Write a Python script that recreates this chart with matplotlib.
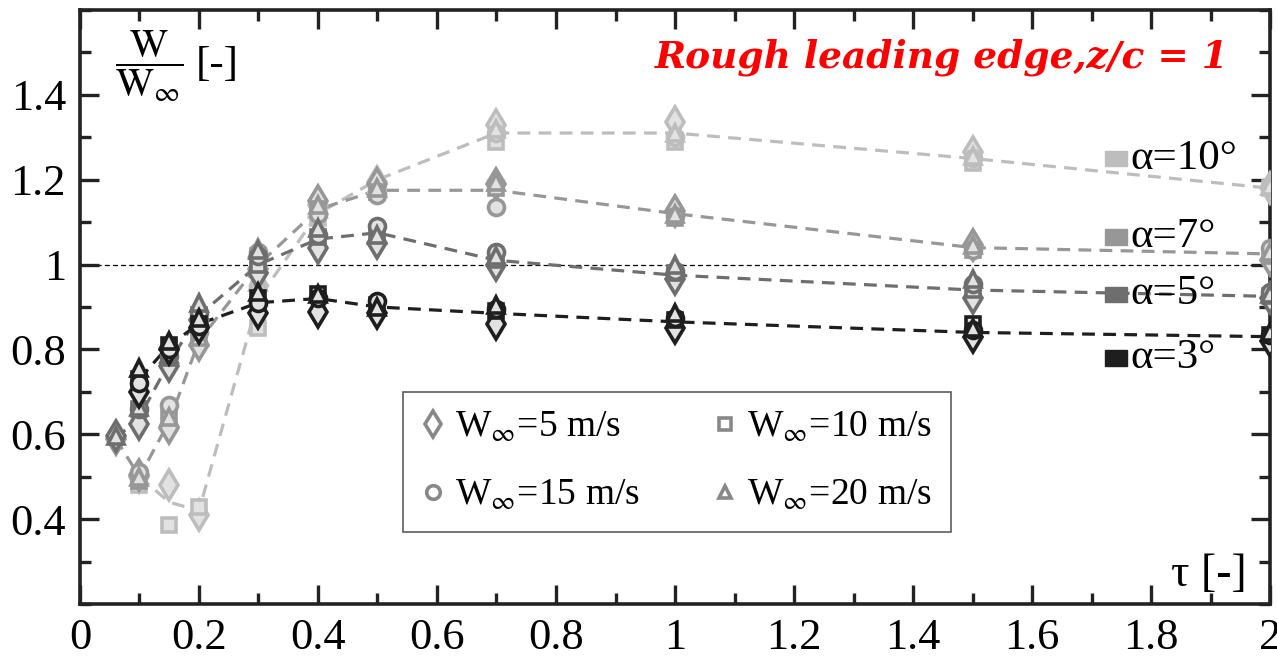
import numpy as np
import matplotlib
matplotlib.use('Agg')
import matplotlib.pyplot as plt
from matplotlib.lines import Line2D
from matplotlib.ticker import MultipleLocator, FuncFormatter

plt.rcParams['font.family'] = ['Liberation Serif', 'DejaVu Serif']
plt.rcParams['mathtext.fontset'] = 'stix'

nan = np.nan
tau = [0.06, 0.1, 0.15, 0.2, 0.3, 0.4, 0.5, 0.7, 1.0, 1.5, 2.0]

# alpha = 10 deg
a10_fit = [nan, 0.50, 0.44, 0.42, 0.92, 1.12, 1.20, 1.31, 1.31, 1.25, 1.18]
a10_w5 = [nan, 0.50, 0.48, 0.41, 0.98, 1.14, 1.195, 1.33, 1.335, 1.265, 1.18]
a10_w10 = [nan, 0.48, 0.386, 0.428, 0.85, 1.11, 1.17, 1.29, 1.29, 1.24, 1.18]
a10_w15 = [nan, nan, nan, nan, 0.95, 1.12, 1.18, 1.31, 1.30, 1.25, 1.18]
a10_w20 = [nan, nan, nan, nan, 0.96, 1.13, 1.19, 1.32, 1.31, 1.255, 1.185]

# alpha = 7 deg
a7_fit = [0.59, 0.50, 0.63, 0.82, 1.00, 1.13, 1.175, 1.175, 1.12, 1.04, 1.025]
a7_w5 = [0.59, 0.505, 0.614, 0.81, 0.99, 1.15, 1.19, 1.19, 1.127, 1.045, 1.01]
a7_w10 = [nan, 0.49, 0.645, 0.83, 1.02, 1.13, 1.17, 1.18, 1.11, 1.035, 1.02]
a7_w15 = [nan, 0.51, 0.668, 0.84, 1.03, 1.12, 1.165, 1.135, 1.115, 1.035, 1.04]
a7_w20 = [nan, 0.50, 0.64, 0.83, 1.04, 1.14, 1.18, 1.195, 1.12, 1.045, 1.03]

# alpha = 5 deg
a5_fit = [0.59, 0.64, 0.77, 0.88, 1.00, 1.06, 1.075, 1.01, 0.975, 0.94, 0.925]
a5_w5 = [0.595, 0.625, 0.76, 0.87, 0.98, 1.04, 1.05, 1.00, 0.967, 0.92, 0.92]
a5_w10 = [nan, 0.66, 0.78, 0.88, 1.00, 1.065, 1.075, 1.01, 0.98, 0.94, 0.925]
a5_w15 = [nan, 0.66, 0.785, 0.885, 1.02, 1.07, 1.09, 1.03, 0.985, 0.955, 0.935]
a5_w20 = [0.595, 0.665, 0.79, 0.91, 1.035, 1.085, 1.07, 1.02, 1.00, 0.965, 0.93]

# alpha = 3 deg
a3_fit = [nan, 0.73, 0.81, 0.86, 0.91, 0.92, 0.90, 0.885, 0.865, 0.84, 0.83]
a3_w5 = [nan, 0.70, 0.80, 0.85, 0.885, 0.887, 0.885, 0.86, 0.85, 0.83, 0.82]
a3_w10 = [nan, 0.73, 0.81, 0.86, 0.92, 0.93, 0.905, 0.89, 0.87, 0.86, 0.835]
a3_w15 = [nan, 0.72, 0.80, 0.855, 0.91, 0.92, 0.915, 0.895, 0.875, 0.845, 0.835]
a3_w20 = [nan, 0.755, 0.82, 0.875, 0.935, 0.93, 0.90, 0.905, 0.885, 0.85, 0.84]

alpha_labels = ['α=10°', 'α=7°', 'α=5°', 'α=3°']
alpha_label_y = [1.25, 1.065, 0.93, 0.78]
speed_labels = ['W$_{\\infty}$=5 m/s', 'W$_{\\infty}$=10 m/s',
                'W$_{\\infty}$=15 m/s', 'W$_{\\infty}$=20 m/s']

colors = ['#bdbdbd', '#979797', '#6e6e6e', '#1e1e1e']
markers = ['d', 's', 'o', '^']
msizes = [15, 10, 11.5, 11]

fits = [a10_fit, a7_fit, a5_fit, a3_fit]
groups = [[a10_w5, a10_w10, a10_w15, a10_w20],
          [a7_w5, a7_w10, a7_w15, a7_w20],
          [a5_w5, a5_w10, a5_w15, a5_w20],
          [a3_w5, a3_w10, a3_w15, a3_w20]]

fig = plt.figure(figsize=(12.77, 6.56), dpi=100)
ax = fig.add_axes([0.0626, 0.0793, 0.932, 0.9055])

ax.axhline(1.0, color='black', lw=0.9, ls=(0, (4, 2.5)), zorder=1)

for c, fit, grp in zip(colors, fits, groups):
    t = np.array(tau)
    f = np.array(fit)
    ok = ~np.isnan(f)
    ax.plot(t[ok], f[ok], color=c, lw=2.3, ls=(0, (4, 2.6)), zorder=2)
    for m, ms, vals in zip(markers, msizes, grp):
        ax.plot(tau, vals, ls='none', marker=m, ms=ms, mfc='#e2e2e2',
                mec=c, mew=2.6, zorder=3)

# alpha labels on the right
for lab, yy, c in zip(alpha_labels, alpha_label_y, colors):
    ax.add_patch(plt.Rectangle((1.723, yy - 0.018), 0.037, 0.036,
                               color=c, zorder=4))
    ax.text(1.766, yy, lab, fontsize=31, va='center', ha='left', zorder=4)

ax.set_xlim(0, 2)
ax.set_ylim(0.2, 1.6)
ax.set_xticks(np.arange(0, 2.01, 0.2))
ax.set_yticks([0.4, 0.6, 0.8, 1.0, 1.2, 1.4])
ax.xaxis.set_minor_locator(MultipleLocator(0.1))
ax.yaxis.set_minor_locator(MultipleLocator(0.1))
fmt = FuncFormatter(lambda v, p: ('%g' % round(v, 2)))
ax.xaxis.set_major_formatter(fmt)
ax.yaxis.set_major_formatter(fmt)
ax.tick_params(which='both', direction='in', top=True, right=True,
               width=2.4, labelsize=32, color='#222')
ax.tick_params(which='major', length=14, pad=10)
ax.tick_params(which='minor', length=8)
ax.tick_params(axis='y', pad=10)
for s in ax.spines.values():
    s.set_linewidth(2.6)
    s.set_color('#222')

# legend for the free-stream velocity
hs = [Line2D([], [], ls='none', marker=m, ms=ms * 0.85, mfc='white',
             mec='#888888', mew=2.6) for m, ms in zip(markers, msizes)]
order = [0, 2, 1, 3]
leg = ax.legend([hs[i] for i in order], [speed_labels[i] for i in order],
                ncol=2, loc='lower left', bbox_to_anchor=(0.2714, 0.121),
                borderaxespad=0, fontsize=27, frameon=True, fancybox=False,
                edgecolor='#333', handlelength=0.6, handletextpad=0.3,
                columnspacing=1.95, borderpad=0.5, labelspacing=0.9)
leg.get_frame().set_linewidth(1.2)

# axis labels inside the frame
ax.text(0.058, 0.905, r'$\dfrac{\mathrm{W}}{\mathrm{W}_{\infty}}$',
        transform=ax.transAxes, fontsize=29, ha='center', va='center')
ax.text(0.097, 0.908, '[-]', transform=ax.transAxes, fontsize=31,
        ha='left', va='center')
ax.text(0.980, 0.05, 'τ [-]', transform=ax.transAxes, fontsize=33,
        ha='right', va='center')

ax.text(0.724, 0.921, 'Rough leading edge,z/c = 1', transform=ax.transAxes,
        fontsize=27, color='#ff0000', fontweight='bold', fontstyle='italic',
        family='DejaVu Serif', ha='center', va='center')

fig.savefig('out.png', dpi=100)
